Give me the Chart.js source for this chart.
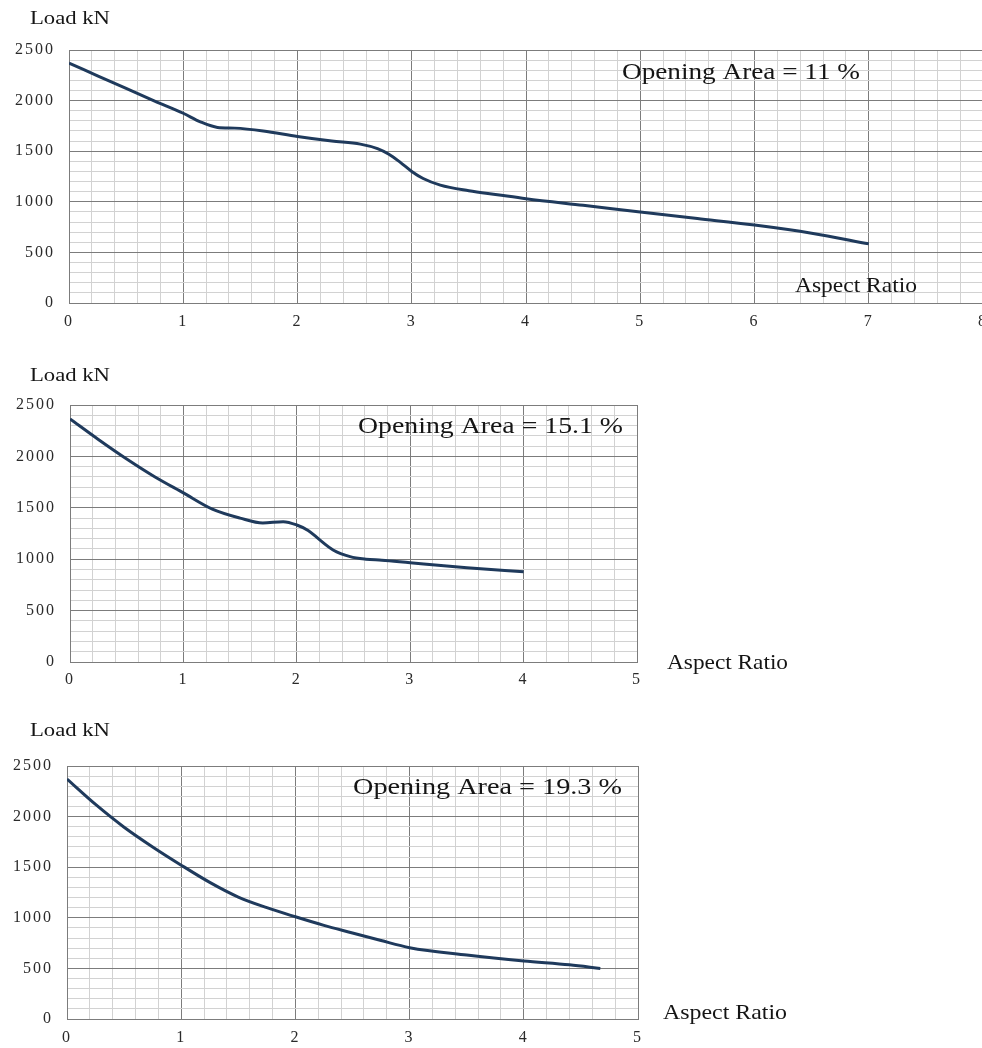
<!DOCTYPE html>
<html>
<head>
<meta charset="utf-8">
<script src="https://cdn.jsdelivr.net/npm/chart.js@4.4.1/dist/chart.umd.min.js"></script>
<style>
  html, body { margin: 0; padding: 0; background: #fff; overflow: hidden; width: 982px; height: 1048px; }
  canvas { position: absolute; left: 0; }
</style>
</head>
<body>
<canvas id="chart11" width="1010" height="340" style="top:0"></canvas>
<canvas id="chart15" width="982" height="340" style="top:360px"></canvas>
<canvas id="chart19" width="982" height="328" style="top:720px"></canvas>
<script>
// Opening area = 11 %
const ratio11 = [0, 0.25, 0.5, 0.75, 1, 1.15, 1.3, 1.45, 1.7, 2, 2.3, 2.55, 2.7, 2.8, 2.9, 3, 3.1, 3.25, 3.5, 3.75, 4, 4.5, 5, 5.5, 6, 6.5, 7];
const load11 = [2370, 2245, 2120, 1995, 1875, 1790, 1735, 1728, 1700, 1645, 1600, 1570, 1525, 1470, 1390, 1300, 1230, 1165, 1110, 1070, 1030, 965, 900, 835, 770, 690, 585];

// Opening area = 15.1 %
const ratio15 = [0, 0.25, 0.5, 0.75, 1, 1.25, 1.5, 1.7, 1.88, 2, 2.1, 2.2, 2.32, 2.47, 2.61, 2.75, 3, 3.5, 4];
const load15 = [2365, 2165, 1975, 1800, 1645, 1490, 1400, 1352, 1365, 1333, 1280, 1190, 1090, 1025, 1000, 990, 965, 917, 878];

// Opening area = 19.3 %
const ratio19 = [0, 0.25, 0.5, 0.75, 1, 1.25, 1.5, 1.75, 2, 2.25, 2.5, 2.75, 3, 3.5, 4, 4.4, 4.67];
const load19 = [2371, 2120, 1895, 1700, 1520, 1350, 1205, 1100, 1010, 925, 850, 775, 705, 632, 573, 535, 500];

const loadMax = 2500;
const loadMajorStep = 500;
const loadMinorStep = 100;
const ratioMinorStep = 0.2;

const MAJOR = '#7c7c7c';
const MINOR = '#d2d2d2';
const LINE = '#1f3a5c';
const SERIF = '"Liberation Serif", "Times New Roman", serif';

function isMajor(v, step) {
    const q = v / step;
    return Math.abs(q - Math.round(q)) < 1e-6;
}

// draws the free text (axis names, opening area note), stretched to the reference width
const textPlugin = {
    id: 'freeText',
    beforeDraw(chart) {
        chart.ctx.letterSpacing = '2px';
    },
    afterDraw(chart, args, opts) {
        const ctx = chart.ctx;
        ctx.letterSpacing = '0px';
        (opts.items || []).forEach(t => {
            ctx.save();
            ctx.font = t.size + 'px ' + SERIF;
            ctx.fillStyle = '#151515';
            ctx.textBaseline = 'middle';
            ctx.textAlign = 'left';
            const w = ctx.measureText(t.text).width;
            ctx.translate(t.x, t.y);
            ctx.scale(t.w / w, 1);
            ctx.fillText(t.text, 0, 0);
            ctx.restore();
        });
    }
};

function makeChart(id, xs, ys, xMax, box, texts) {
    const points = xs.map((x, i) => ({ x: x, y: ys[i] }));
    return new Chart(document.getElementById(id), {
        type: 'line',
        data: {
            datasets: [{
                data: points,
                borderColor: LINE,
                borderWidth: 3,
                pointRadius: 0,
                fill: false,
                cubicInterpolationMode: 'monotone'
            }]
        },
        options: {
            responsive: false,
            animation: false,
            events: [],
            layout: { padding: box.padding },
            plugins: {
                legend: { display: false },
                tooltip: { enabled: false },
                freeText: { items: texts }
            },
            scales: {
                x: {
                    type: 'linear',
                    min: 0,
                    max: xMax,
                    afterFit: s => { s.height = box.xHeight; },
                    ticks: {
                        stepSize: ratioMinorStep,
                        autoSkip: false,
                        maxRotation: 0,
                        padding: box.xPad,
                        color: '#2a2a2a',
                        font: { family: SERIF, size: 16 },
                        callback: v => isMajor(v, 1) ? String(Math.round(v)) : ''
                    },
                    grid: {
                        drawTicks: false,
                        color: c => (c.tick && isMajor(c.tick.value, 1)) ? MAJOR : MINOR
                    },
                    border: { color: MAJOR }
                },
                y: {
                    min: 0,
                    max: loadMax,
                    afterFit: s => { s.width = box.yWidth; },
                    ticks: {
                        stepSize: loadMinorStep,
                        autoSkip: false,
                        padding: 14,
                        color: '#2a2a2a',
                        font: { family: SERIF, size: 16 },
                        callback: v => isMajor(v, loadMajorStep) ? String(v) : ''
                    },
                    grid: {
                        drawTicks: false,
                        color: c => (c.tick && isMajor(c.tick.value, loadMajorStep)) ? MAJOR : MINOR
                    },
                    border: { color: MAJOR }
                }
            }
        },
        plugins: [textPlugin]
    });
}

makeChart('chart11', ratio11, load11, 8,
    { padding: { top: 50, right: 27, bottom: 7, left: 0 }, yWidth: 69, xHeight: 30, xPad: 9 },
    [
        { text: 'Load kN', x: 30, y: 19, size: 18, w: 80 },
        { text: 'Opening Area = 11 %', x: 622, y: 73, size: 24, w: 238 },
        { text: 'Aspect Ratio', x: 795, y: 286, size: 21, w: 122 }
    ]);

makeChart('chart15', ratio15, load15, 5,
    { padding: { top: 45, right: 345, bottom: 8, left: 0 }, yWidth: 70, xHeight: 30, xPad: 8 },
    [
        { text: 'Load kN', x: 30, y: 16, size: 18, w: 80 },
        { text: 'Opening Area = 15.1 %', x: 358, y: 67, size: 24, w: 265 },
        { text: 'Aspect Ratio', x: 667, y: 303, size: 21, w: 121 }
    ]);

makeChart('chart19', ratio19, load19, 5,
    { padding: { top: 46, right: 344, bottom: 3, left: 0 }, yWidth: 67, xHeight: 26, xPad: 9 },
    [
        { text: 'Load kN', x: 30, y: 11, size: 18, w: 80 },
        { text: 'Opening Area = 19.3 %', x: 353, y: 68, size: 24, w: 269 },
        { text: 'Aspect Ratio', x: 663, y: 293, size: 21, w: 124 }
    ]);
</script>
</body>
</html>
